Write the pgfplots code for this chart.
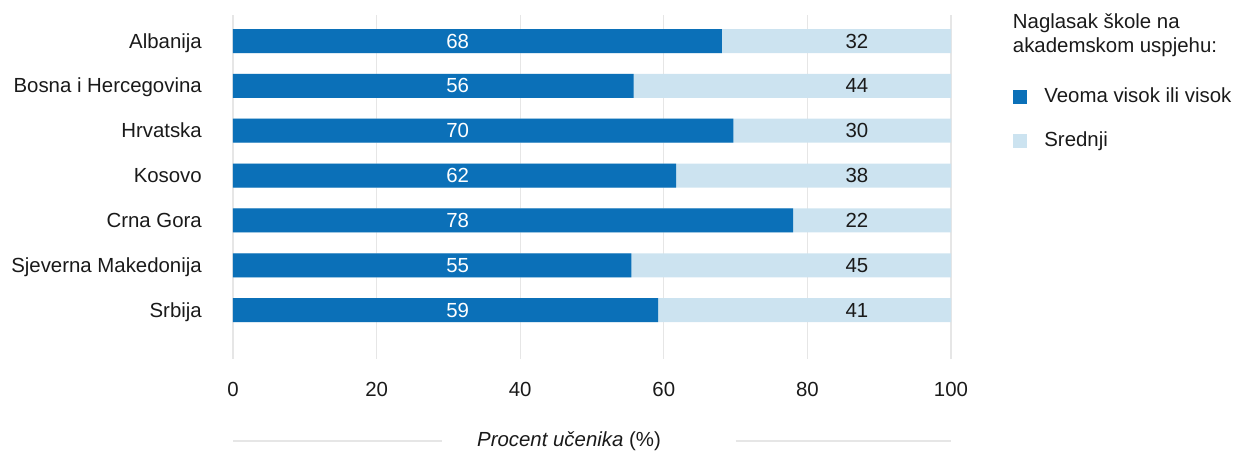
\documentclass[border=0pt]{standalone}
\usepackage{fontspec}
\setmainfont{Liberation Sans}
\usepackage{pgfplots}
\pgfplotsset{compat=1.18}
\usepackage{pgfplotstable}
\definecolor{dblue}{RGB}{11,112,184}
\definecolor{lblue}{RGB}{204,227,240}
\definecolor{gridc}{RGB}{230,230,230}
\definecolor{txt}{RGB}{26,26,26}

\pgfplotstableread{
y a b la lb
0 68.1 31.9 68 32
1 55.8 44.2 56 44
2 69.7 30.3 70 30
3 61.7 38.3 62 38
4 78.0 22.0 78 22
5 55.5 44.5 55 45
6 59.2 40.8 59 41
}\data

\begin{document}
\fontsize{20.4}{24}\selectfont
\begin{tikzpicture}
\begin{axis}[
  at={(233pt,95pt)}, anchor=south west,
  scale only axis, width=718pt, height=344pt,
  xmin=0, xmax=100, ymin=-0.58, ymax=7.09, y dir=reverse,
  xtick={0,20,...,100}, ytick={0,...,6},
  yticklabels={Albanija,Bosna i Hercegovina,Hrvatska,Kosovo,Crna Gora,Sjeverna Makedonija,Srbija},
  axis line style={draw=none}, major tick length=0pt,
  xmajorgrids, grid style={color=gridc, line width=1.3pt},
  /pgf/number format/assume math mode=true,
  tick label style={font=\fontsize{20.4}{24}\selectfont, text=txt},
  yticklabel style={anchor=base east, inner sep=0pt, xshift=-31pt, yshift=-7pt},
  xticklabel style={anchor=base, inner sep=0pt, yshift=-38pt},
  clip=false,
  legend style={at={(axis cs:108.6,1.739)}, anchor=west, draw=none, fill=none, inner sep=0pt,
    row sep=26pt, font=\fontsize{20.4}{24}\selectfont, text=txt,
    nodes={inner sep=0pt, text height=14pt, text depth=4pt, anchor=west},
    /tikz/every odd column/.style={column sep=18pt}},
  legend cell align=left,
]
\addplot[xbar, bar width=24pt, bar shift=0pt, fill=lblue, draw=none, forget plot]
  table[x expr=\thisrow{a}+\thisrow{b}, y=y]{\data};
\addplot[xbar, bar width=24pt, bar shift=0pt, fill=dblue, draw=none, forget plot]
  table[x=a, y=y]{\data};
\addplot[only marks, mark=none, forget plot, nodes near coords, point meta=explicit symbolic,
  nodes near coords style={anchor=center, inner sep=0pt, text=white, font=\fontsize{20.4}{24}\selectfont}]
  table[x expr=31.3, y=y, meta=la]{\data};
\addplot[only marks, mark=none, forget plot, nodes near coords, point meta=explicit symbolic,
  nodes near coords style={anchor=center, inner sep=0pt, text=txt, font=\fontsize{20.4}{24}\selectfont}]
  table[x expr=86.9, y=y, meta=lb]{\data};
\addlegendimage{legend image code/.code={\fill[dblue] (0pt,-6.5pt) rectangle (13pt,6.5pt);}}
\addlegendentry{Veoma visok ili visok}
\addlegendimage{legend image code/.code={\fill[lblue] (0pt,-6.5pt) rectangle (13pt,6.5pt);}}
\addlegendentry{Srednji}
% axis title with side rules
\draw[gridc, line width=1.3pt] (axis cs:0,8.92) -- (axis cs:29.05,8.92);
\draw[gridc, line width=1.3pt] (axis cs:70.0,8.92) -- (axis cs:100,8.92);
\node[text=txt, inner sep=0pt, anchor=center] at (axis cs:46.8,8.92) {\textit{Procent učenika} (\%)};
% legend title
\node[text=txt, inner sep=0pt, anchor=base west] at (axis cs:108.6,-0.29) {Naglasak škole na};
\node[text=txt, inner sep=0pt, anchor=base west] at (axis cs:108.6,0.267) {akademskom uspjehu:};
\end{axis}
\pgfresetboundingbox
\path (0pt,0pt) rectangle (1235pt,454pt);
\end{tikzpicture}
\end{document}
